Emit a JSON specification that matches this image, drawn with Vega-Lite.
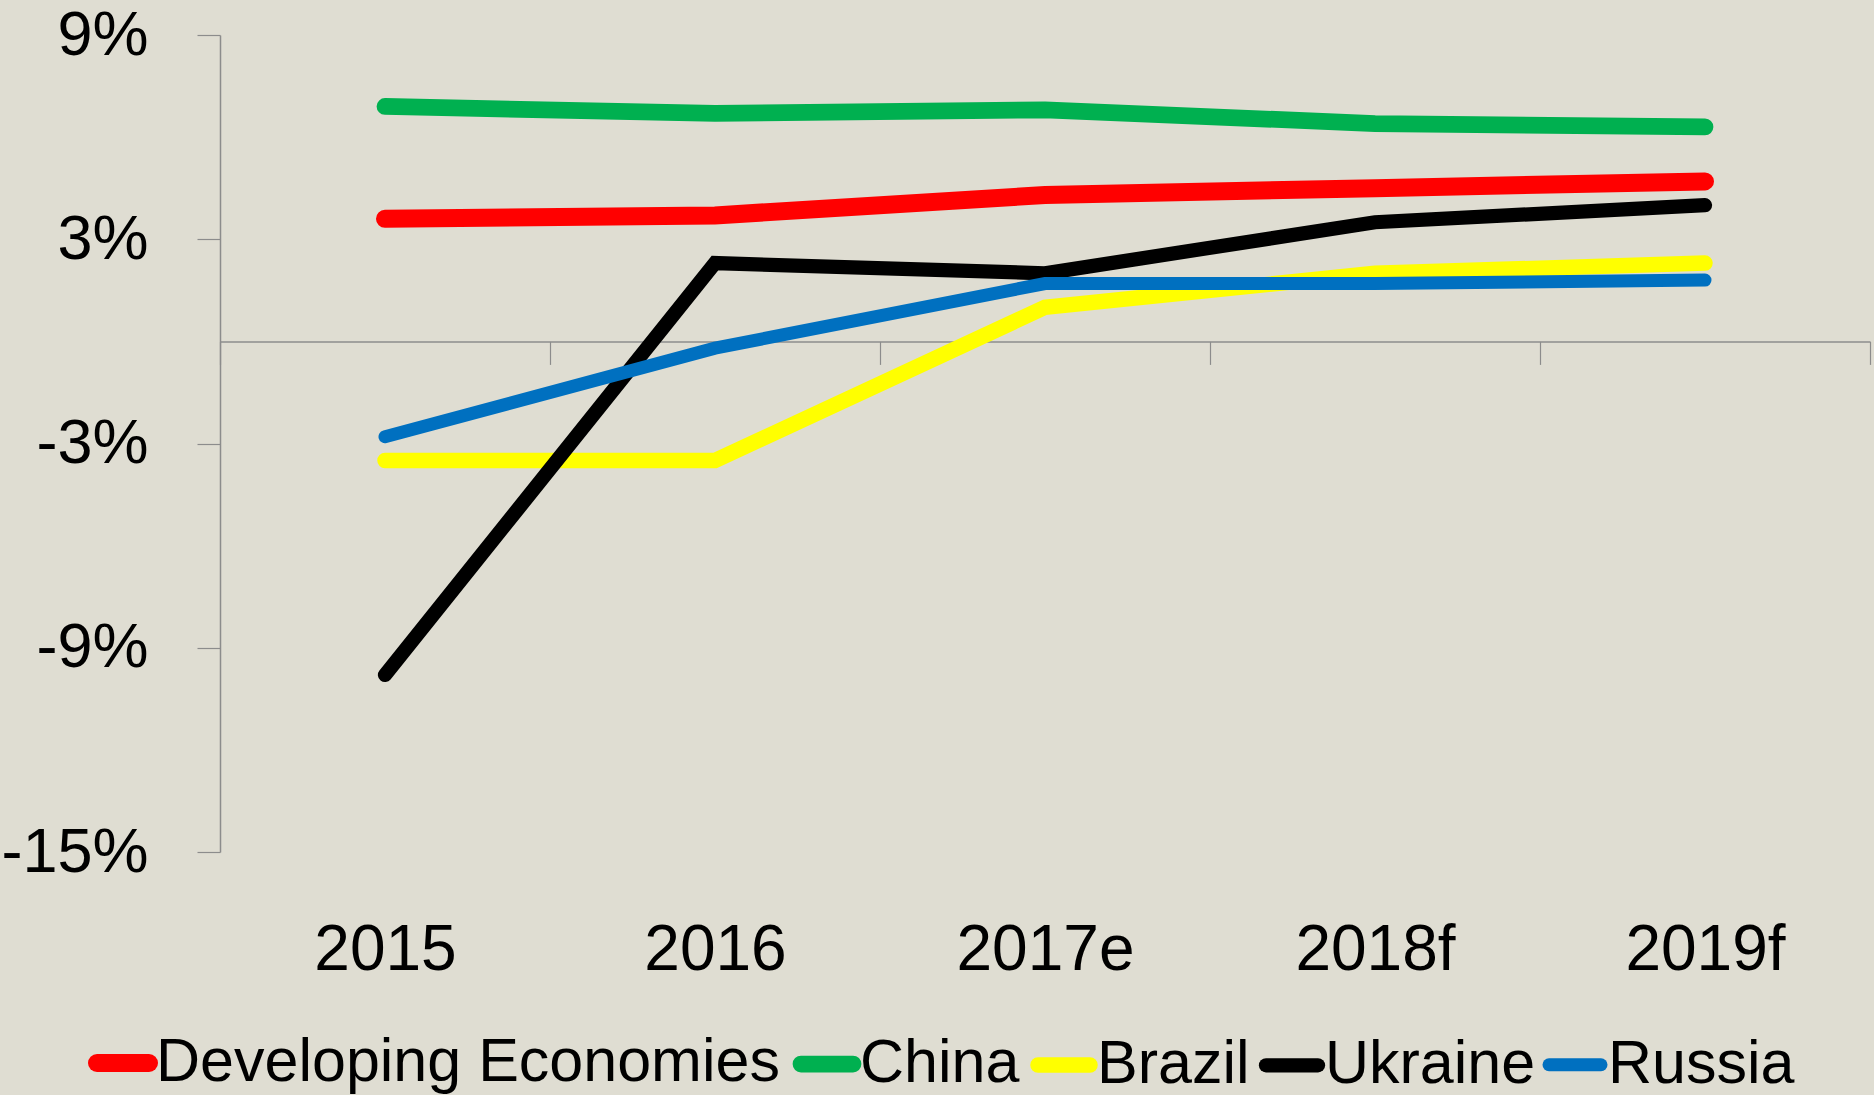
{
  "$schema": "https://vega.github.io/schema/vega-lite/v6.json",
  "width": 1650,
  "height": 817,
  "autosize": {"type": "none"},
  "padding": {"left": 220, "top": 35, "right": 4, "bottom": 243},
  "background": "#dfddd2",
  "config": {
    "view": {"stroke": null},
    "font": "Liberation Sans"
  },
  "data": {
    "values": [
      {"year": "2015", "series": "Developing Economies", "growth": 3.6},
      {"year": "2016", "series": "Developing Economies", "growth": 3.7},
      {"year": "2017e", "series": "Developing Economies", "growth": 4.3},
      {"year": "2018f", "series": "Developing Economies", "growth": 4.5},
      {"year": "2019f", "series": "Developing Economies", "growth": 4.7},
      {"year": "2015", "series": "China", "growth": 6.9},
      {"year": "2016", "series": "China", "growth": 6.7},
      {"year": "2017e", "series": "China", "growth": 6.8},
      {"year": "2018f", "series": "China", "growth": 6.4},
      {"year": "2019f", "series": "China", "growth": 6.3},
      {"year": "2015", "series": "Brazil", "growth": -3.5},
      {"year": "2016", "series": "Brazil", "growth": -3.5},
      {"year": "2017e", "series": "Brazil", "growth": 1.0},
      {"year": "2018f", "series": "Brazil", "growth": 2.0},
      {"year": "2019f", "series": "Brazil", "growth": 2.3},
      {"year": "2015", "series": "Ukraine", "growth": -9.8},
      {"year": "2016", "series": "Ukraine", "growth": 2.3},
      {"year": "2017e", "series": "Ukraine", "growth": 2.0},
      {"year": "2018f", "series": "Ukraine", "growth": 3.5},
      {"year": "2019f", "series": "Ukraine", "growth": 4.0},
      {"year": "2015", "series": "Russia", "growth": -2.8},
      {"year": "2016", "series": "Russia", "growth": -0.2},
      {"year": "2017e", "series": "Russia", "growth": 1.7},
      {"year": "2018f", "series": "Russia", "growth": 1.7},
      {"year": "2019f", "series": "Russia", "growth": 1.8}
    ]
  },
  "mark": {"type": "line", "strokeCap": "round"},
  "encoding": {
    "x": {
      "field": "year",
      "type": "ordinal",
      "sort": ["2015", "2016", "2017e", "2018f", "2019f"],
      "scale": {"type": "band", "paddingInner": 0, "paddingOuter": 0},
      "axis": {
        "title": null,
        "offset": -510.6,
        "tickBand": "extent",
        "domainColor": "#8c8c8c",
        "domainWidth": 1.5,
        "tickColor": "#8c8c8c",
        "tickWidth": 1.2,
        "tickSize": 23,
        "labelAngle": 0,
        "labelFont": "Liberation Sans",
        "labelFontSize": 64,
        "labelColor": "#000000",
        "labelBaseline": "alphabetic",
        "labelPadding": 605,
        "labelFlush": false,
        "labelOverlap": false
      }
    },
    "y": {
      "field": "growth",
      "type": "quantitative",
      "scale": {"domain": [-15, 9], "nice": false, "zero": false},
      "axis": {
        "title": null,
        "values": [-15, -9, -3, 3, 9],
        "labelExpr": "datum.value + '%'",
        "grid": false,
        "domainColor": "#8c8c8c",
        "domainWidth": 1.5,
        "tickColor": "#8c8c8c",
        "tickWidth": 1.2,
        "tickSize": 23,
        "labelPadding": 49,
        "labelFont": "Liberation Sans",
        "labelFontSize": 63,
        "labelColor": "#000000",
        "labelFlush": false,
        "labelOverlap": false
      }
    },
    "color": {
      "field": "series",
      "type": "nominal",
      "scale": {
        "domain": ["Developing Economies", "China", "Brazil", "Ukraine", "Russia"],
        "range": ["#ff0000", "#00b050", "#ffff00", "#000000", "#0070c0"]
      },
      "legend": {
        "title": null,
        "orient": "none",
        "legendX": -132,
        "legendY": 993,
        "direction": "horizontal",
        "columns": 5,
        "symbolType": "stroke",
        "symbolSize": 2704,
        "symbolStrokeWidth": 17,
        "labelFont": "Liberation Sans",
        "labelFontSize": 61,
        "labelColor": "#000000",
        "labelOffset": -2,
        "labelLimit": 0,
        "columnPadding": -13,
        "padding": 0,
        "encode": {
          "symbols": {"update": {"strokeCap": {"value": "round"}}}
        }
      }
    },
    "strokeWidth": {
      "field": "series",
      "type": "nominal",
      "scale": {
        "domain": ["Developing Economies", "China", "Brazil", "Ukraine", "Russia"],
        "range": [18, 13, 13, 12, 12]
      },
      "legend": null
    }
  }
}
